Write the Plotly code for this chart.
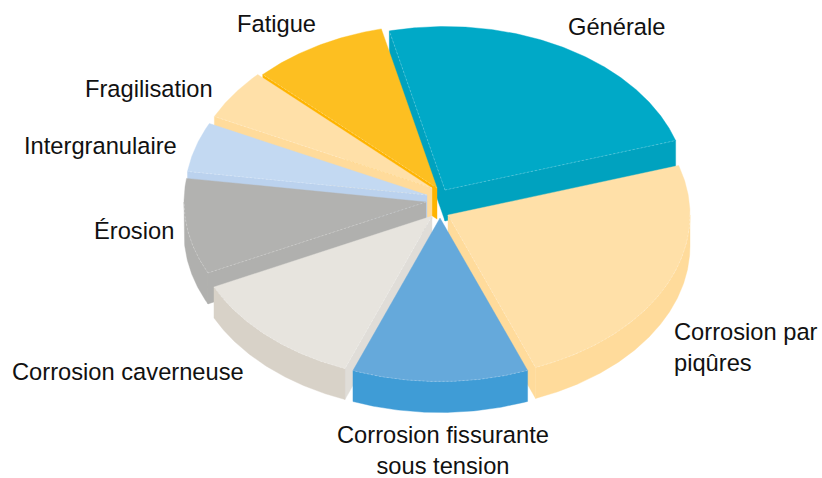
import numpy as np
import plotly.graph_objects as go

# --- data ---
categories = ["Générale", "Corrosion par piqûres", "Corrosion fissurante sous tension",
              "Corrosion caverneuse", "Érosion", "Intergranulaire", "Fragilisation", "Fatigue"]
shares = [23.8, 24.0, 11.75, 12.0, 9.45, 4.9, 5.0, 9.1]

# --- style: colours, explosion of each slice, projection ---
top_colors = ["#00A9C7", "#FFE0A8", "#65A9DB", "#E7E4DE", "#B2B2B0", "#C3D9F2", "#FFE0A8", "#FDBF21"]
rim_colors = ["#00A2BF", "#FFDB9B", "#3F9CD6", "#D8D2C8", "#B0B0AE", "#BBD2EE", "#FFDB9B", "#FFB400"]
side_colors = ["#00A2BF", "#FFDB9B", "#3F9CD6", "#E0DDD8", "#B0B0AE", "#BBD2EE", "#FFDB9B", "#FFB400"]
pull_x = [8, 11, 3, -5, -11, -10, -5, 0]
pull_y = [-13, 12, 15, 13, -1, -8, -15, -15]
CX, CY, RX, RY, DEPTH = 437, 203, 242, 163.5, 31
START = -13.3
draw_order = [0, 1, 7, 6, 5, 4, 3, 2]

labels = [("Fatigue", 235, 24, "left"), ("Générale", 566, 27, "left"),
          ("Fragilisation", 83, 89, "left"), ("Intergranulaire", 22, 146, "left"),
          ("Érosion", 92, 231, "left"), ("Corrosion caverneuse", 10, 372, "left"),
          ("Corrosion fissurante<br>sous tension", 443, 450, "center"),
          ("Corrosion par<br>piqûres", 672, 347, "left")]

edges = START + np.concatenate([[0], np.cumsum(shares)]) * 360 / sum(shares)


def rim(ax, ay, a, b):
    t = np.radians(np.linspace(a, b, max(3, int(abs(b - a) * 2))))
    return ax + RX * np.sin(t), ay - RY * np.cos(t)


def poly(xs, ys, color, name, hover=True):
    return go.Scatter(x=list(xs) + [xs[0]], y=list(ys) + [ys[0]], mode="lines", fill="toself",
                      fillcolor=color, line=dict(width=0.4, color=color), name=name,
                      hoverinfo="name" if hover else "skip", showlegend=False)


fig = go.Figure()
for i in draw_order:
    a, b = edges[i], edges[i + 1]
    ax, ay = CX + pull_x[i], CY + pull_y[i]
    name = categories[i]
    # radial walls that face the viewer
    faces = []
    if np.sin(np.radians(a)) < 0:
        faces.append(a)
    if np.sin(np.radians(b)) > 0:
        faces.append(b)
    for ang in faces:
        ex, ey = rim(ax, ay, ang, ang)
        fig.add_trace(poly([ax, ex[0], ex[0], ax], [ay, ey[0], ey[0] + DEPTH, ay + DEPTH],
                           side_colors[i], name))
    # outer wall: front half of the rim only
    lo, hi = max(a, 90), min(b, 270)
    if hi > lo:
        rx_, ry_ = rim(ax, ay, lo, hi)
        fig.add_trace(poly(np.r_[rx_, rx_[::-1]], np.r_[ry_, ry_[::-1] + DEPTH], rim_colors[i], name))
    # top face
    tx, ty = rim(ax, ay, a, b)
    fig.add_trace(poly(np.r_[ax, tx], np.r_[ay, ty], top_colors[i], name))
    # thin light highlight on the top edges of the visible walls
    hl = dict(width=0.6, color="rgba(255,255,255,0.4)", dash="2px,2px")
    for ang in faces:
        ex, ey = rim(ax, ay, ang, ang)
        fig.add_trace(go.Scatter(x=[ax, ex[0]], y=[ay, ey[0]], mode="lines", line=hl,
                                 hoverinfo="skip", showlegend=False))
    if hi > lo:
        fig.add_trace(go.Scatter(x=rx_, y=ry_, mode="lines", line=hl, hoverinfo="skip", showlegend=False))

for text, x, y, align in labels:
    fig.add_annotation(x=x, y=y, text=text, showarrow=False, xanchor=align, yanchor="middle", align=align,
                       font=dict(family="Liberation Sans, Arial, sans-serif", size=23.7, color="#111111"))

fig.update_layout(width=822, height=478, margin=dict(l=0, r=0, t=0, b=0),
                  paper_bgcolor="white", plot_bgcolor="white", showlegend=False,
                  xaxis=dict(range=[0, 822], visible=False, fixedrange=True),
                  yaxis=dict(range=[478, 0], visible=False, fixedrange=True))
fig.write_html("out.html", config=dict(displayModeBar=False),
               post_script="document.body.style.margin='0';")
